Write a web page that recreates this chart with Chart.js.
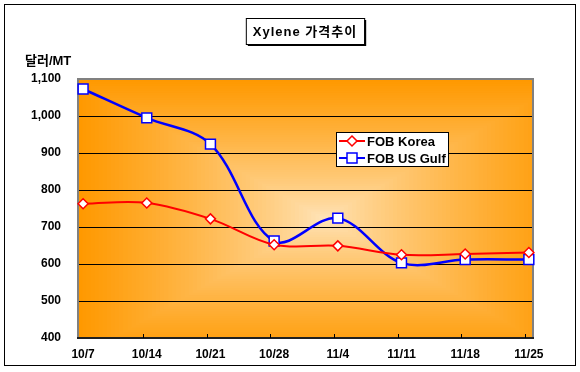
<!DOCTYPE html>
<html>
<head>
<meta charset="utf-8">
<script src="https://cdn.jsdelivr.net/npm/chart.js@4/dist/chart.umd.min.js"></script>
<style>
  html, body { margin: 0; padding: 0; background: #fff; }
  #wrap { width: 580px; height: 372px; }
</style>
</head>
<body>
<div id="wrap"><canvas id="chart" width="580" height="372"></canvas></div>
<script>
// 데이터
const dates = ['10/7', '10/14', '10/21', '10/28', '11/4', '11/11', '11/18', '11/25'];
const fobKorea = [763, 765, 722, 652, 649, 625, 627, 631];
const fobUsGulf = [1073, 995, 924, 662, 724, 603, 612, 612];
const yTicks = [400, 500, 600, 700, 800, 900, 1000, 1100];
const chartTitle = 'Xylene 가격추이';
const unitLabel = '달러/MT';
const seriesNames = ['FOB Korea', 'FOB US Gulf'];

const FONT = "'Liberation Sans', Arial, 'Noto Sans CJK KR', sans-serif";

function toPoints(arr) {
    return arr.map((v, i) => ({ x: i, y: v }));
}

function lerp(a, b, t) { return Math.round(a + (b - a) * t); }

function drawMarker(ctx, style, x, y, color) {
    ctx.save();
    ctx.fillStyle = '#fff';
    ctx.strokeStyle = color;
    ctx.lineWidth = 1.5;
    ctx.beginPath();
    if (style === 'rectRot') {
        ctx.moveTo(x, y - 5); ctx.lineTo(x + 5, y); ctx.lineTo(x, y + 5); ctx.lineTo(x - 5, y);
        ctx.closePath();
    } else {
        ctx.rect(x - 5, y - 5, 10, 10);
    }
    ctx.fill();
    ctx.stroke();
    ctx.restore();
}

// 배경, 제목, 테두리
const decorPlugin = {
    id: 'decor',
    beforeDraw(chart) {
        const ctx = chart.ctx;
        const a = chart.chartArea;
        ctx.save();
        ctx.fillStyle = '#fff';
        ctx.fillRect(0, 0, chart.width, chart.height);

        // 바깥 테두리
        ctx.strokeStyle = '#000';
        ctx.lineWidth = 1;
        ctx.strokeRect(4.5, 4.5, 571, 361);

        // 가운데에서 퍼지는 그라데이션 (사각형)
        const cx = (a.left + a.right) / 2 + 18, cy = (a.top + a.bottom) / 2 + 10;
        const hw = Math.max(cx - a.left, a.right - cx), hh = Math.max(cy - a.top, a.bottom - cy);
        ctx.beginPath();
        ctx.rect(a.left, a.top, a.right - a.left, a.bottom - a.top);
        ctx.clip();
        const steps = 60;
        for (let i = steps; i >= 1; i--) {
            const t = i / steps;
            const k = Math.pow(t, 0.8);
            ctx.fillStyle = `rgb(255,${lerp(230, 153, k)},${lerp(190, 0, k)})`;
            ctx.fillRect(cx - hw * t, cy - hh * t, hw * 2 * t, hh * 2 * t);
        }
        ctx.restore();

        // 제목 상자
        ctx.save();
        ctx.font = 'bold 13px ' + FONT;
        ctx.letterSpacing = '1px';
        const tw = ctx.measureText(chartTitle).width;
        const bx = 305 - tw / 2 - 7, by = 18, bw = tw + 14, bh = 26;
        ctx.fillStyle = '#000';
        ctx.fillRect(bx + 2, by + 2, bw, bh);
        ctx.fillStyle = '#fff';
        ctx.fillRect(bx, by, bw, bh);
        ctx.strokeStyle = '#000';
        ctx.lineWidth = 1;
        ctx.strokeRect(bx + 0.5, by + 0.5, bw, bh);
        ctx.fillStyle = '#000';
        ctx.textAlign = 'left';
        ctx.textBaseline = 'middle';
        ctx.fillText(chartTitle, bx + 7, by + bh / 2 + 1);

        // 단위
        ctx.font = 'bold 13px ' + FONT;
        ctx.letterSpacing = '0px';
        ctx.fillText(unitLabel, 25, 61);
        ctx.restore();
    },
    beforeDatasetsDraw(chart) {
        const ctx = chart.ctx;
        const a = chart.chartArea;
        const xs = chart.scales.x;
        ctx.save();
        ctx.strokeStyle = '#808080';
        ctx.lineWidth = 2;
        ctx.strokeRect(a.left, a.top, a.right - a.left, a.bottom - a.top);
        ctx.strokeStyle = '#000';
        ctx.lineWidth = 1.5;
        ctx.beginPath();
        ctx.moveTo(a.left - 1, a.bottom);
        ctx.lineTo(a.right + 1, a.bottom);
        ctx.stroke();
        // 안쪽 눈금
        ctx.lineWidth = 1;
        for (let i = 1; i < dates.length; i++) {
            const px = Math.round(xs.getPixelForValue(i - 0.06)) + 0.5;
            ctx.beginPath();
            ctx.moveTo(px, a.bottom);
            ctx.lineTo(px, a.bottom - 4);
            ctx.stroke();
        }
        ctx.restore();
    },
    afterDraw(chart) {
        // 범례
        const ctx = chart.ctx;
        ctx.save();
        ctx.fillStyle = '#fff';
        ctx.fillRect(336, 132, 112, 34);
        ctx.strokeStyle = '#000';
        ctx.lineWidth = 1;
        ctx.strokeRect(336.5, 132.5, 112, 34);
        ctx.font = 'bold 13px ' + FONT;
        ctx.textBaseline = 'middle';
        chart.data.datasets.forEach((ds, i) => {
            const y = 141 + i * 17;
            ctx.strokeStyle = ds.borderColor;
            ctx.lineWidth = 2;
            ctx.beginPath();
            ctx.moveTo(339, y);
            ctx.lineTo(365, y);
            ctx.stroke();
            drawMarker(ctx, ds.pointStyle, 352, y, ds.borderColor);
            ctx.fillStyle = '#000';
            ctx.fillText(ds.label, 367, y + 1);
        });
        ctx.restore();
    }
};

new Chart(document.getElementById('chart'), {
    type: 'line',
    data: {
        datasets: [
            {
                label: seriesNames[0],
                data: toPoints(fobKorea),
                borderColor: '#FF0000',
                borderWidth: 2,
                tension: 0.35,
                pointStyle: 'rectRot',
                pointRadius: 5,
                pointBackgroundColor: '#fff',
                pointBorderColor: '#FF0000',
                pointBorderWidth: 1.5,
                clip: false
            },
            {
                label: seriesNames[1],
                data: toPoints(fobUsGulf),
                borderColor: '#0000FF',
                borderWidth: 2.5,
                tension: 0.35,
                pointStyle: 'rect',
                pointRadius: 7,
                pointBackgroundColor: '#fff',
                pointBorderColor: '#0000FF',
                pointBorderWidth: 1.5,
                clip: false
            }
        ]
    },
    options: {
        responsive: false,
        animation: false,
        devicePixelRatio: 1,
        layout: { padding: { top: 79, right: 47, left: 0, bottom: 0 } },
        plugins: {
            legend: { display: false },
            tooltip: { enabled: false }
        },
        scales: {
            x: {
                type: 'linear',
                min: -0.08,
                max: 7.065,
                afterBuildTicks: s => { s.ticks = dates.map((d, i) => ({ value: i })); },
                afterFit: s => { s.height = 34; },
                grid: { display: false, drawTicks: false },
                border: { display: false },
                ticks: {
                    autoSkip: false,
                    maxRotation: 0,
                    padding: 9,
                    color: '#000',
                    font: { family: FONT, size: 12, weight: 'bold' },
                    callback: v => dates[v]
                }
            },
            y: {
                min: yTicks[0],
                max: yTicks[yTicks.length - 1],
                afterBuildTicks: s => { s.ticks = yTicks.map(v => ({ value: v })); },
                afterFit: s => { s.width = 78; },
                grid: {
                    drawTicks: false,
                    color: ctx => (ctx.tick && (ctx.tick.value === 400 || ctx.tick.value === 1100)) ? 'rgba(0,0,0,0)' : '#000',
                    lineWidth: 1
                },
                border: { display: false },
                ticks: {
                    padding: 17,
                    color: '#000',
                    font: { family: FONT, size: 12, weight: 'bold' },
                    callback: v => v.toLocaleString('en-US')
                }
            }
        }
    },
    plugins: [decorPlugin]
});
</script>
</body>
</html>
